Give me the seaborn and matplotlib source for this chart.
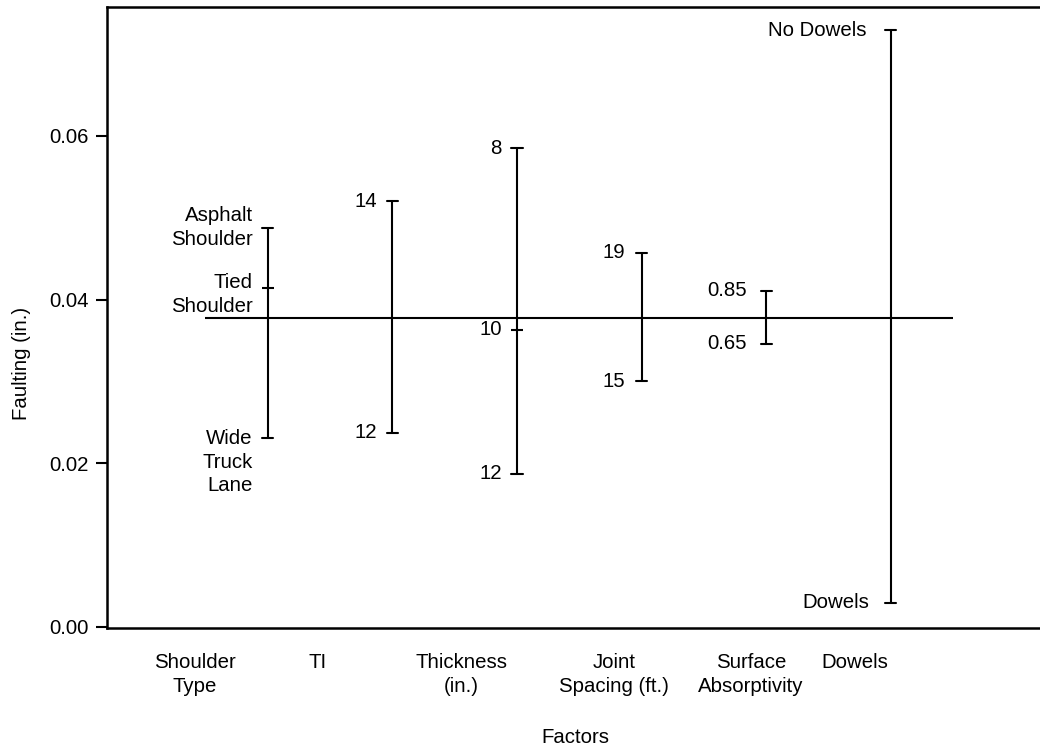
import matplotlib
matplotlib.use("Agg")
import matplotlib.pyplot as plt
import seaborn as sns
import pandas as pd
import numpy as np

# ---------------- data ----------------
factors = ["Shoulder Type", "TI", "Thickness", "Joint Spacing", "Surface Absorptivity", "Dowels"]
factor_tick_labels = ["Shoulder\nType", "TI", "Thickness\n(in.)", "Joint\nSpacing (ft.)",
                      "Surface\nAbsorptivity", "Dowels"]

shoulder_levels = ["Asphalt\nShoulder", "Tied\nShoulder", "Wide\nTruck\nLane"]
shoulder_fault = [0.0488, 0.0414, 0.0231]
ti_levels = ["14", "12"]
ti_fault = [0.0520, 0.0237]
thick_levels = ["8", "10", "12"]
thick_fault = [0.0585, 0.0363, 0.0187]
joint_levels = ["19", "15"]
joint_fault = [0.0457, 0.0300]
surface_levels = ["0.85", "0.65"]
surface_fault = [0.0411, 0.0346]
dowel_levels = ["No Dowels", "Dowels"]
dowel_fault = [0.0729, 0.0029]

overall_mean = 0.0378

level_lists = [shoulder_levels, ti_levels, thick_levels, joint_levels, surface_levels, dowel_levels]
fault_lists = [shoulder_fault, ti_fault, thick_fault, joint_fault, surface_fault, dowel_fault]

rows = []
for f, levs, vals in zip(factors, level_lists, fault_lists):
    for l, v in zip(levs, vals):
        rows.append({"factor": f, "level": l, "faulting": v})
df = pd.DataFrame(rows)

# ---------------- style ----------------
sns.set_style("white")
plt.rcParams["font.family"] = ["Liberation Sans", "DejaVu Sans"]
plt.rcParams["text.color"] = "black"
plt.rcParams["axes.labelcolor"] = "black"
plt.rcParams["xtick.color"] = "black"
plt.rcParams["ytick.color"] = "black"
FS = 14.7
LS = 1.31

DPI = 100
fig = plt.figure(figsize=(10.4, 7.49), dpi=DPI)
ax = fig.add_axes([107 / 1040, (749 - 628) / 749, 1 - 107 / 1040, (628 - 6.7) / 749])

# range bars (min..max per factor)
sns.pointplot(data=df, x="factor", y="faulting", order=factors,
              estimator="mean", errorbar=lambda v: (v.min(), v.max()),
              color="black", marker="", linestyle="none",
              capsize=0.09, err_kws={"linewidth": 1.5}, ax=ax)

# intermediate levels as small ticks
mid = df.groupby("factor", sort=False).apply(
    lambda g: g[(g.faulting != g.faulting.max()) & (g.faulting != g.faulting.min())],
    include_groups=False).reset_index()
mid["pos"] = [factors.index(f) for f in mid["factor"]]
sns.scatterplot(data=mid, x="pos", y="faulting", marker="_", s=64, color="black",
                linewidth=1.5, ax=ax, legend=False, zorder=5)

# overall mean line
ax.hlines(overall_mean, -0.5, len(factors) - 0.5, color="black", linewidth=1.5, zorder=4)

# level labels
px = 72 / DPI
gaps_px = [15, 15, 15, 16, 19, 21]
special_dy = {"Tied\nShoulder": -6.3, "Wide\nTruck\nLane": -24.3, "No Dowels": 0}
for i, (f, levs, vals) in enumerate(zip(factors, level_lists, fault_lists)):
    for l, v in zip(levs, vals):
        gap = gaps_px[i] + (3 if l == "No Dowels" else 0)
        dy = special_dy.get(l, 0)
        ax.annotate(l, xy=(i, v), xytext=(-gap * px, dy * px), textcoords="offset points",
                    ha="right", va="center", fontsize=FS, linespacing=LS, color="black")

# axes
ax.set_ylim(-0.00016, 0.0758)
ax.set_xlim(-1.29, 6.198)
ax.set_yticks([0.0, 0.02, 0.04, 0.06])
ax.set_yticklabels(["0.00", "0.02", "0.04", "0.06"])
label_pos = [-0.583, 0.40, 1.556, 2.78, 3.88, 4.71]
ax.set_xticks(label_pos)
ax.set_xticklabels(factor_tick_labels, linespacing=LS)
ax.tick_params(axis="x", length=0, pad=18, labelsize=FS)
ax.tick_params(axis="y", length=8, width=1.5, pad=5, labelsize=FS, direction="out", left=True)

for s in ["top", "left", "bottom"]:
    ax.spines[s].set_visible(True)
    ax.spines[s].set_linewidth(1.8)
    ax.spines[s].set_color("black")
ax.spines["right"].set_visible(False)

ax.set_xlabel("Factors", fontsize=FS)
ax.set_ylabel("Faulting (in.)", fontsize=FS)
ax.xaxis.set_label_coords((575 - 107) / 933, (628 - 737.5) / 621.3)
ax.xaxis.label.set_va("center")
ax.yaxis.set_label_coords((22 - 107) / 933, (628 - 363) / 621.3)
ax.yaxis.label.set_va("center")
ax.yaxis.label.set_ha("center")

fig.savefig("out.png", dpi=DPI)
